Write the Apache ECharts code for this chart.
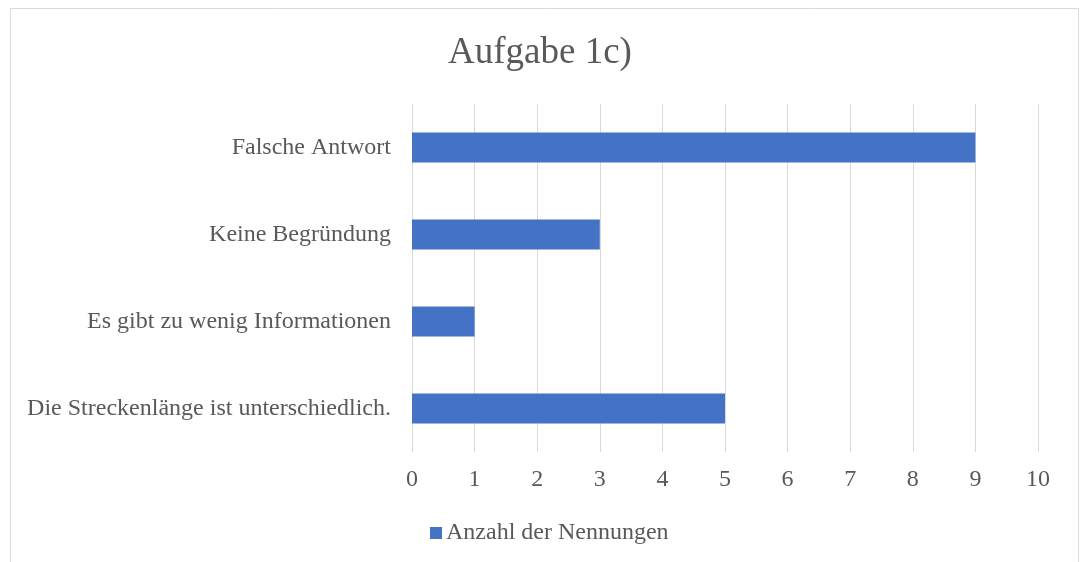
<!DOCTYPE html>
<html>
<head>
<meta charset="utf-8">
<script src="https://cdn.jsdelivr.net/npm/echarts@6/dist/echarts.min.js"></script>
<style>
  html, body { margin: 0; padding: 0; background: #fff; }
  #main { width: 1080px; height: 562px; }
</style>
</head>
<body>
<div id="main"></div>
<script>
var chart = echarts.init(document.getElementById('main'), null, { renderer: 'canvas' });

// Kategorien von oben nach unten
var categories = ['Falsche Antwort', 'Keine Begründung', 'Es gibt zu wenig Informationen', 'Die Streckenlänge ist unterschiedlich.'];
var nennungen = [9, 3, 1, 5];
var seriesName = 'Anzahl der Nennungen';

var serif = '"Liberation Serif", "DejaVu Serif", serif';
var textColor = '#595959';

chart.setOption({
    backgroundColor: '#fff',
    title: {
        text: 'Aufgabe 1c)',
        left: 'center',
        top: 30,
        textStyle: { fontFamily: serif, fontSize: 37, fontWeight: 'normal', color: textColor }
    },
    graphic: [{
        type: 'rect',
        shape: { x: 10.5, y: 8.5, width: 1068, height: 600 },
        style: { fill: 'none', stroke: '#d9d9d9', lineWidth: 1 },
        silent: true
    }],
    legend: {
        data: [seriesName],
        left: 430,
        top: 521,
        padding: 0,
        icon: 'rect',
        itemWidth: 12,
        itemHeight: 12,
        itemGap: 4,
        textStyle: { fontFamily: serif, fontSize: 24, color: textColor, padding: [0, 0, 0, -1] }
    },
    grid: { left: 412, right: 42, top: 104, bottom: 110 },
    xAxis: {
        type: 'value',
        min: 0,
        max: 10,
        interval: 1,
        axisLine: { show: false },
        axisTick: { show: false },
        axisLabel: { fontFamily: serif, fontSize: 24, color: textColor, margin: 16 },
        splitLine: { lineStyle: { color: '#d9d9d9', width: 1 } }
    },
    yAxis: {
        type: 'category',
        data: categories,
        inverse: true,
        axisLine: { show: false },
        axisTick: { show: false },
        axisLabel: { fontFamily: serif, fontSize: 24, color: textColor, margin: 21 }
    },
    series: [{
        name: seriesName,
        type: 'bar',
        data: nennungen,
        barWidth: 30,
        itemStyle: { color: '#4472C4' }
    }]
});
</script>
</body>
</html>
